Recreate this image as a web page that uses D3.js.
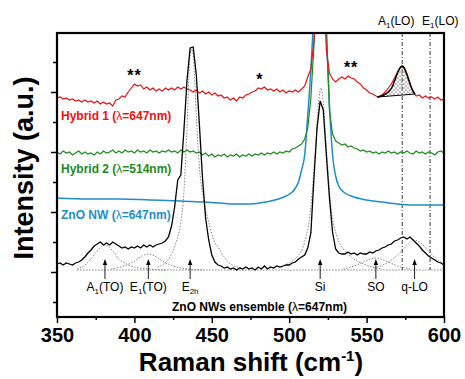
<!DOCTYPE html>
<html>
<head>
<meta charset="utf-8">
<script src="https://cdn.jsdelivr.net/npm/d3@7/dist/d3.min.js"></script>
<style>
  body { margin: 0; background: #fff; }
  svg { font-family: Arial, "Liberation Sans", sans-serif; }
</style>
</head>
<body>
<svg id="chart" width="465" height="379"></svg>
<script>
// raman shift grid of the measured spectra (cm-1)
const shift = d3.range(350, 601, 2);

// Hybrid 1 (647 nm), offset intensity in a.u.
const hybrid1 = [
  219,220,218,219,217,218,216,217,215,217,
  215,216,214,216,213,215,213,214,211,217,
  218,221,220,225,229,233,231,232,228,230,
  227,229,226,228,226,229,227,229,227,230,
  228,230,228,227,225,227,224,226,223,225,
  222,224,221,222,219,220,217,219,216,220,
  219,222,223,225,226,229,228,230,227,228,
  226,228,225,227,224,226,225,227,225,228,
  231,240,248,276,330,420,360,267,244,238,
  235,238,240,238,241,239,238,235,233,229,
  227,224,223,221,220,222,225,229,233,239,
  245,250,249,243,234,225,221,222,219,221,
  219,220,218,220,217,218
];

// Hybrid 2 (514 nm)
const hybrid2 = [
  165,163,166,164,165,162,164,166,163,165,
  163,164,162,165,163,166,164,165,167,164,
  166,164,167,165,166,164,167,165,166,164,
  167,165,166,164,166,165,167,165,166,164,
  167,165,167,165,166,164,165,162,164,161,
  163,160,162,161,163,160,162,161,163,160,
  162,161,163,161,163,162,164,162,164,163,
  165,163,165,164,166,165,168,169,171,173,
  178,189,219,272,340,360,340,290,207,183,
  176,174,172,173,170,171,169,168,166,167,
  165,166,164,165,163,165,164,166,164,165,
  163,165,164,166,164,163,166,164,165,163,
  165,164,162,165,166,164
];

// ZnO NWs ensemble (647 nm)
const ensemble = [
  53,54,52,54,53,52,54,55,57,60,
  64,67,71,73,75,72,74,72,75,73,
  71,69,70,68,70,69,71,69,72,70,
  72,70,72,73,74,76,80,91,110,137,
  142,187,237,269,270,242,192,139,99,77,
  62,55,52,51,49,50,48,49,47,49,
  48,50,48,49,47,50,48,51,48,50,
  49,51,50,51,52,52,54,55,58,60,
  62,69,84,139,189,216,207,162,119,85,
  68,64,63,63,65,63,64,62,64,63,
  63,65,64,66,67,69,70,72,73,76,
  77,79,80,78,80,77,74,71,67,64,
  61,59,57,55,54,52
];

// ZnO NW (647 nm), smooth trace
const nwShift = [350,370,390,410,430,445,455,465,475,485,493,498,502,504,506,508,510,512,514,516,518,520,522,524,526,528,530,532,536,540,550,560,570,580,600];
const nwVal   = [119,118,118,117,116,115,114,113,113,115,118,121,125,129,135,147,162,202,247,307,360,380,360,282,212,162,141,131,124,121,117,115,113,112,112];

// fitted components of the ensemble spectrum (dotted)
const fitBase = [[363, 47], [600, 47]];
const fitA1TO = [[363,48],[368,52],[372,58],[376,66],[379,71],[381,72],[383,71],[386,66],[390,58],[395,53],[400,50],[410,48],[420,47]];
const fitE1TO = [[385,48],[395,52],[400,56],[405,61],[409,63],[413,61],[418,56],[425,51],[435,48],[445,47]];
const fitE2h  = [[415,50],[422,58],[427,75],[430,95],[432,125],[434,190],[436,262],[437,268],[438,262],[440,200],[442,150],[445,115],[448,95],[451,78],[454,70],[458,60],[462,53],[470,49]];
const fitSi   = [[495,50],[500,54],[505,60],[510,75],[514,110],[517,170],[519,215],[520.5,229],[522,215],[524,170],[527,110],[531,80],[535,68],[540,60],[548,53],[560,48]];
const fitSO   = [[535,48],[542,51],[548,55],[553,58],[556,59],[559,58],[564,55],[570,51],[578,48]];
const fitQLO  = [[555,49],[562,53],[567,58],[572,65],[577,73],[581,77],[585,74],[590,66],[595,58],[600,53]];

// gaussian fit of A1(LO) on Hybrid 1
const loFit = [[557,220],[561,222],[564,225],[566.5,230],[568.5,238],[570.5,246],[573,251],[575,247],[577,238],[579,229],[581.3,223]];

// mode markers
const peakPos  = [381, 409, 436, 520, 556, 581];
const peakMain = ['A', 'E', 'E', 'Si', 'SO', 'q-LO'];
const peakSub  = ['1', '1', '2h', '', '', ''];
const peakTail = ['(TO)', '(TO)', '', '', '', ''];
const loPos    = [573, 591];
const loLabels = ['A', 'E'];

// asterisks over the hybrid 1 spectrum
const starPos  = [400, 481, 540];
const starVal  = [236, 232, 244];
const starText = ['**', '*', '**'];

const xMajor = [350, 400, 450, 500, 550, 600];
const xMinor = [375, 425, 475, 525, 575];
const yMajor = [45, 105, 165, 225];
const yMinor = [15, 75, 135, 195, 255];

const svg = d3.select('#chart');
const x = d3.scaleLinear().domain([350, 600]).range([57, 444]);
const y = d3.scaleLinear().domain([0, 284]).range([317, 33]);

const defs = svg.append('defs');
defs.append('clipPath').attr('id', 'plot')
  .append('rect').attr('x', 57).attr('y', 33).attr('width', 387).attr('height', 284);
const hatch = defs.append('pattern').attr('id', 'hatch')
  .attr('patternUnits', 'userSpaceOnUse').attr('width', 4).attr('height', 4);
hatch.append('path').attr('d', 'M0,0L4,4M4,0L0,4').attr('stroke', '#999').attr('stroke-width', 0.6);

const line = d3.line().x(d => x(d[0])).y(d => y(d[1]));
const smooth = d3.line().x(d => x(d[0])).y(d => y(d[1])).curve(d3.curveMonotoneX);

const g = svg.append('g').attr('clip-path', 'url(#plot)');

// dotted fits
[fitBase, fitA1TO, fitE1TO, fitE2h, fitSi, fitSO, fitQLO].forEach(f => {
  g.append('path').attr('d', smooth(f)).attr('fill', 'none')
    .attr('stroke', '#777').attr('stroke-width', 0.9).attr('stroke-dasharray', '1.5,1.5');
});

// dash-dot LO lines
loPos.forEach(p => {
  g.append('line').attr('x1', x(p)).attr('x2', x(p)).attr('y1', 33).attr('y2', y(47))
    .attr('stroke', '#000').attr('stroke-width', 0.8).attr('stroke-dasharray', '4,2,1,2');
});

g.append('path').attr('d', smooth(d3.zip(nwShift, nwVal))).attr('fill', 'none')
  .attr('stroke', '#1f8dc8').attr('stroke-width', 1.5);
g.append('path').attr('d', line(d3.zip(shift, hybrid2))).attr('fill', 'none')
  .attr('stroke', '#1d8a1d').attr('stroke-width', 1.2);
g.append('path').attr('d', line(d3.zip(shift, hybrid1))).attr('fill', 'none')
  .attr('stroke', '#ee1111').attr('stroke-width', 1.2);
g.append('path').attr('d', line(d3.zip(shift, ensemble))).attr('fill', 'none')
  .attr('stroke', '#000').attr('stroke-width', 1.3);

// A1(LO) fit with hatched area
g.append('path').attr('d', smooth(loFit) + 'Z').attr('fill', 'url(#hatch)');
g.append('path').attr('d', smooth(loFit)).attr('fill', 'none').attr('stroke', '#000').attr('stroke-width', 1.5);
g.append('path').attr('d', line([loFit[0], loFit[loFit.length - 1]])).attr('stroke', '#000').attr('stroke-width', 1.2);

// arrows and mode labels
peakPos.forEach((p, i) => {
  const px = x(p);
  svg.append('line').attr('x1', px).attr('x2', px).attr('y1', y(38)).attr('y2', y(53))
    .attr('stroke', '#000').attr('stroke-width', 0.9);
  svg.append('path').attr('d', `M${px},${y(58)}L${px - 2.2},${y(52)}L${px + 2.2},${y(52)}Z`).attr('fill', '#000');
  const t = svg.append('text').attr('x', px).attr('y', y(26)).attr('text-anchor', 'middle')
    .attr('font-size', 12).attr('fill', '#000');
  t.append('tspan').text(peakMain[i]);
  if (peakSub[i]) t.append('tspan').attr('font-size', 8).attr('dy', 3).text(peakSub[i]);
  if (peakTail[i]) t.append('tspan').attr('dy', -3).text(peakTail[i]);
});

// LO labels above the frame: first centred left of its line, second starting left of its line
loPos.forEach((p, i) => {
  const t = svg.append('text').attr('y', 25).attr('font-size', 12).attr('fill', '#000')
    .attr('x', i === 0 ? x(p) - 6 : x(p) - 8)
    .attr('text-anchor', i === 0 ? 'middle' : 'start');
  t.append('tspan').text(loLabels[i]);
  t.append('tspan').attr('font-size', 8).attr('dy', 3).text('1');
  t.append('tspan').attr('dy', -3).text('(LO)');
});

starPos.forEach((p, i) => {
  svg.append('text').attr('x', x(p)).attr('y', y(starVal[i])).attr('text-anchor', 'middle')
    .attr('font-size', 16).attr('font-weight', 'bold').attr('letter-spacing', 1).text(starText[i]);
});

// series labels
const labels = [
  { t: 'Hybrid 1', c: '#ee1111', v: 197, w: '=647nm)' },
  { t: 'Hybrid 2', c: '#1d8a1d', v: 144, w: '=514nm)' },
  { t: 'ZnO NW', c: '#1f8dc8', v: 98, w: '=647nm)' }
];
labels.forEach(l => {
  const t = svg.append('text').attr('x', 61).attr('y', y(l.v)).attr('font-size', 12)
    .attr('font-weight', 'bold').attr('fill', l.c);
  t.append('tspan').text(l.t + ' (');
  t.append('tspan').attr('font-weight', 'normal').text('λ');
  t.append('tspan').text(l.w);
});
const ens = svg.append('text').attr('x', 172).attr('y', y(6)).attr('font-size', 12)
  .attr('font-weight', 'bold').attr('fill', '#000');
ens.append('tspan').text('ZnO NWs ensemble (');
ens.append('tspan').attr('font-weight', 'normal').text('λ');
ens.append('tspan').text('=647nm)');

// axes
svg.append('g').attr('transform', 'translate(0,317)')
  .call(d3.axisBottom(x).tickValues(xMajor).tickSize(6).tickPadding(5).tickFormat(d3.format('d')))
  .call(a => a.select('.domain').remove())
  .call(a => a.selectAll('line').attr('stroke-width', 1.5))
  .call(a => a.selectAll('text').attr('font-size', 20).attr('font-weight', 'bold').attr('fill', '#000')
    .attr('font-family', 'Arial, "Liberation Sans", sans-serif'));
svg.append('g').attr('transform', 'translate(0,317)')
  .call(d3.axisBottom(x).tickValues(xMinor).tickSize(3).tickFormat(''))
  .call(a => a.select('.domain').remove())
  .call(a => a.selectAll('line').attr('stroke-width', 1.5));
svg.append('g').attr('transform', 'translate(57,0)')
  .call(d3.axisLeft(y).tickValues(yMajor).tickSize(6).tickFormat(''))
  .call(a => a.select('.domain').remove())
  .call(a => a.selectAll('line').attr('stroke-width', 1.5));
svg.append('g').attr('transform', 'translate(57,0)')
  .call(d3.axisLeft(y).tickValues(yMinor).tickSize(4).tickFormat(''))
  .call(a => a.select('.domain').remove())
  .call(a => a.selectAll('line').attr('stroke-width', 1.5));

svg.append('rect').attr('x', 57).attr('y', 33).attr('width', 387).attr('height', 284)
  .attr('fill', 'none').attr('stroke', '#000').attr('stroke-width', 2.2);

// axis titles
const xt = svg.append('text').attr('x', 251).attr('y', 371).attr('text-anchor', 'middle')
  .attr('font-size', 26).attr('font-weight', 'bold');
xt.append('tspan').text('Raman shift (cm');
xt.append('tspan').attr('font-size', 15).attr('dy', -10).text('-1');
xt.append('tspan').attr('dy', 10).text(')');

svg.append('text').attr('transform', 'translate(33,168) rotate(-90)').attr('text-anchor', 'middle')
  .attr('font-size', 27).attr('font-weight', 'bold').text('Intensity (a.u.)');
</script>
</body>
</html>
